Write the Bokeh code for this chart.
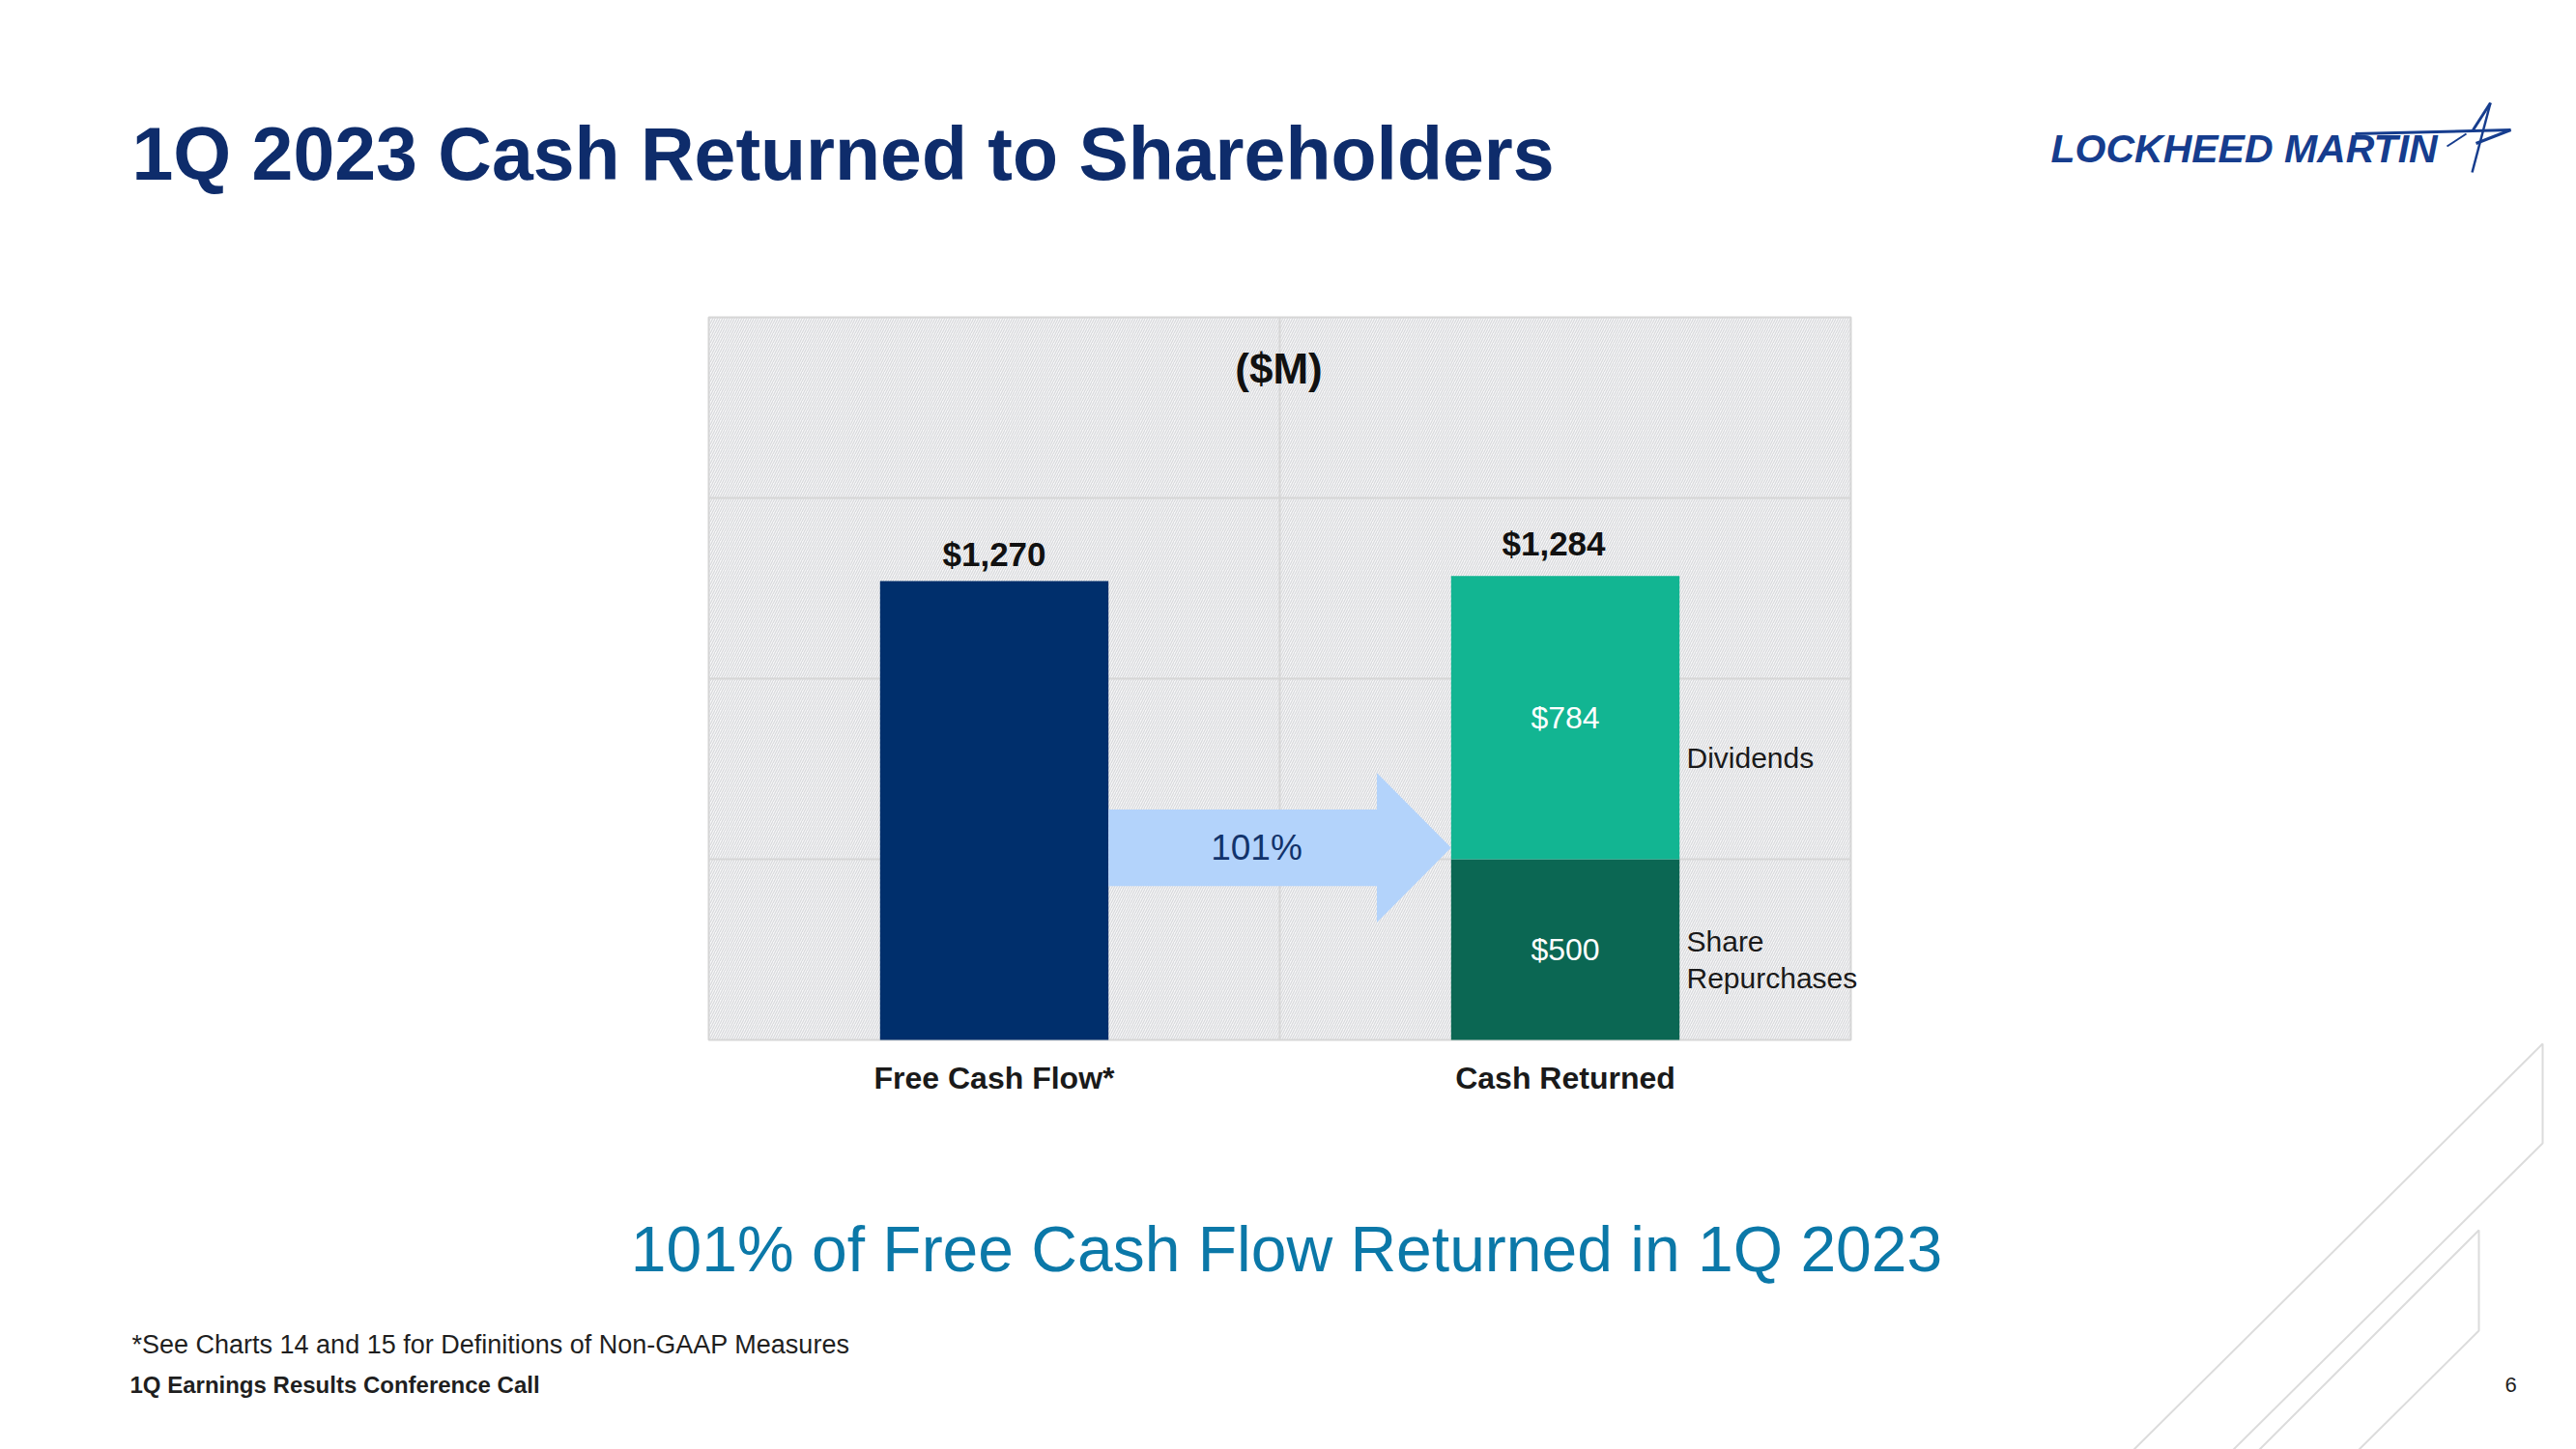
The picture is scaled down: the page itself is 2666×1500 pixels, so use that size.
from bokeh.plotting import figure
from bokeh.models import Range1d, Label
from bokeh.core.properties import value
from bokeh.embed import file_html
from bokeh.resources import INLINE

# ---------------- data ----------------
categories = ["Free Cash Flow*", "Cash Returned"]
free_cash_flow = [1270]
share_repurchases = [500]
dividends = [784]
bar_totals = [1270, 1284]
bar_total_labels = ["$1,270", "$1,284"]
segment_values = [500, 784]
segment_labels = ["$500", "$784"]
returned_pct = "101%"
y_gridlines = [500, 1000, 1500]
y_max = 2000

FONT = "Liberation Sans"

# page geometry (pixels): where the chart area sits on the 2666x1500 page
W, H = 2666, 1500
FL, FR, FT, FB = 733, 1915, 328, 1076
X_SPAN = len(categories)
xpos = [i + 0.5 for i in range(len(categories))]


def dx(px):
    return (px - FL) / (FR - FL) * X_SPAN


def dy(py):
    return (FB - py) / (FB - FT) * y_max


# the frame covers the whole page; ranges are chosen so the chart area lands at FL..FR / FT..FB
p = figure(width=W, height=H, x_range=Range1d(dx(0), dx(W)), y_range=Range1d(dy(H), dy(0)),
           output_backend="svg", toolbar_location=None,
           min_border=0, min_border_left=0, min_border_right=0, min_border_top=0, min_border_bottom=0)
p.axis.visible = False
p.grid.visible = False
p.outline_line_color = None
p.background_fill_color = "white"
p.border_fill_color = "white"

GRID = "#d6d6d6"
# hatched chart background
p.quad(left=[0], right=[X_SPAN], bottom=[0], top=[y_max], fill_color="#f6f6f7", line_color=None,
       hatch_pattern="/", hatch_color="#d8d9dc", hatch_scale=5, hatch_weight=1.2)
# gridlines
p.segment(x0=[0] * len(y_gridlines), x1=[X_SPAN] * len(y_gridlines), y0=y_gridlines, y1=y_gridlines,
          line_color=GRID, line_width=2)
p.segment(x0=[1], x1=[1], y0=[0], y1=[y_max], line_color=GRID, line_width=2)
# chart border
p.quad(left=[0], right=[X_SPAN], bottom=[0], top=[y_max], fill_alpha=0, line_color=GRID, line_width=2)

BAR_W = 0.4
p.vbar(x=[xpos[0]], top=free_cash_flow, width=BAR_W, fill_color="#002f6c", line_color=None)
p.vbar(x=[xpos[1]], bottom=[0], top=share_repurchases, width=BAR_W, fill_color="#0b6753", line_color=None)
p.vbar(x=[xpos[1]], bottom=share_repurchases, top=[share_repurchases[0] + dividends[0]], width=BAR_W,
       fill_color="#12b592", line_color=None)

# arrow between bars
a_x0 = xpos[0] + BAR_W / 2
a_tip = xpos[1] - BAR_W / 2
a_head = a_tip - 0.13
a_mid, a_half, h_half = 532, 106, 207
p.patch(x=[a_x0, a_head, a_head, a_tip, a_head, a_head, a_x0],
        y=[a_mid + a_half, a_mid + a_half, a_mid + h_half, a_mid, a_mid - h_half, a_mid - a_half, a_mid - a_half],
        fill_color="#b3d3fb", line_color=None)
p.text(x=[dx(1300)], y=[a_mid], text=[returned_pct], text_align="center", text_baseline="middle",
       text_font=value(FONT), text_font_size="37px", text_color="#12336b")

# totals above bars
p.text(x=xpos, y=bar_totals, text=bar_total_labels, x_offset=[0, -12], y_offset=[-28, -34], text_align="center",
       text_baseline="middle", text_font=value(FONT), text_font_style="bold", text_font_size="35px",
       text_color="#111111")

# segment labels
seg_mid = [segment_values[0] / 2, segment_values[0] + segment_values[1] / 2]
p.text(x=[xpos[1]] * 2, y=seg_mid, text=segment_labels, text_align="center", text_baseline="middle",
       text_font=value(FONT), text_font_size="32px", text_color="white")

# category labels under the chart
p.text(x=xpos, y=[dy(1115)] * len(xpos), text=categories, text_align="center", text_baseline="middle",
       text_font=value(FONT), text_font_style="bold", text_font_size="32px", text_color="#1a1a1a")


def label(px, py, text, size, color="#1a1a1a", style="normal", align="left"):
    p.add_layout(Label(x=dx(px), y=dy(py), text=text, text_align=align, text_baseline="middle",
                       text_font=FONT, text_font_style=style, text_font_size=size, text_color=color))


# side labels
label(1745, 784, "Dividends", "30px")
label(1745, 974, "Share", "30px")
label(1745, 1012, "Repurchases", "30px")
label(1323, 381, "($M)", "44px", "#111111", "bold", "center")

# page texts
label(136, 158, "1Q 2023 Cash Returned to Shareholders", "77px", "#0e2c6b", "bold")
label(1331, 1292, "101% of Free Cash Flow Returned in 1Q 2023", "66px", "#0b78a8", "normal", "center")
label(136, 1391, "*See Charts 14 and 15 for Definitions of Non-GAAP Measures", "27px", "#1f1f1f")
label(134, 1433, "1Q Earnings Results Conference Call", "24px", "#1f1f1f", "bold")
label(2598, 1433, "6", "22px", "#1f1f1f", "normal", "center")

# logo
LOGO = "#163d8e"
label(2122, 153, "LOCKHEED MARTIN", "41px", LOGO, "bold italic")
star_lines = [
    ([(2437, 138), (2598, 134)], 3),
    ([(2598, 134), (2562, 148)], 3),
    ([(2577, 106), (2558, 178)], 2.5),
    ([(2577, 106), (2559, 134)], 3),
    ([(2532, 151), (2552, 138)], 2),
]
for pts, wdt in star_lines:
    p.line(x=[dx(a) for a, b in pts], y=[dy(b) for a, b in pts], line_color=LOGO, line_width=wdt)

# decorative corner lines
for shape in ([(2205, 1503), (2631, 1080), (2631, 1183), (2308, 1503)],
              [(2335, 1503), (2565, 1273), (2565, 1377), (2438, 1503)]):
    p.line(x=[dx(a) for a, b in shape], y=[dy(b) for a, b in shape], line_color="#dcdcdc", line_width=2)

open("out.html", "w").write(file_html(p, INLINE))
